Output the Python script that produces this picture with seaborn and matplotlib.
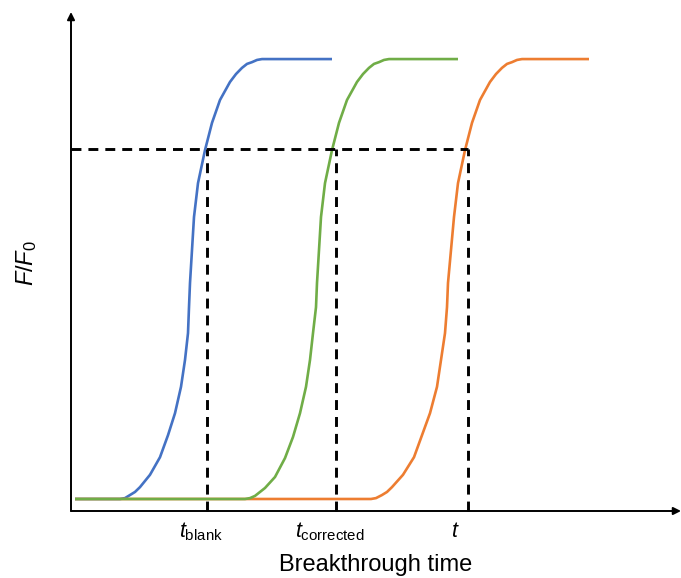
import matplotlib
matplotlib.use("Agg")
import matplotlib.pyplot as plt
import seaborn as sns
import pandas as pd

# ---- data (time in arbitrary units, F/F0) ----
blue_t = [0.4, 4.9, 5.4, 5.9, 6.4, 6.9, 7.9, 8.9, 9.7, 10.4, 11.0, 11.4, 11.7, 11.8, 11.9,
          12.1, 12.3, 12.7, 13.4, 14.1, 14.9, 15.9, 16.5, 17.1, 17.6, 18.1, 18.6, 19.1, 26.1]
blue_f = [0.0, 0.0, 0.002, 0.009, 0.016, 0.027, 0.055, 0.095, 0.145, 0.195, 0.255, 0.316, 0.377, 0.436, 0.491,
          0.566, 0.641, 0.718, 0.793, 0.855, 0.907, 0.948, 0.966, 0.980, 0.989, 0.993, 0.998, 1.0, 1.0]

green_t = [0.4, 17.4, 17.9, 18.4, 18.9, 19.4, 20.4, 21.4, 22.2, 22.9, 23.5, 23.9, 24.2, 24.5, 24.6,
           24.8, 25.0, 25.4, 26.1, 26.8, 27.6, 28.6, 29.2, 29.8, 30.3, 30.8, 31.3, 31.8, 38.7]
green_f = [0.0, 0.0, 0.002, 0.007, 0.016, 0.025, 0.050, 0.093, 0.141, 0.195, 0.255, 0.316, 0.377, 0.436, 0.491,
           0.566, 0.641, 0.718, 0.793, 0.855, 0.907, 0.948, 0.966, 0.980, 0.989, 0.993, 0.998, 1.0, 1.0]

orange_t = [0.4, 30.0, 30.5, 31.1, 31.6, 32.1, 33.2, 34.3, 35.1, 35.9, 36.6, 37.0, 37.4, 37.6, 37.7,
            38.0, 38.3, 38.7, 39.4, 40.1, 40.9, 41.9, 42.5, 43.1, 43.6, 44.1, 44.6, 45.1, 51.8]
orange_f = [0.0, 0.0, 0.002, 0.009, 0.016, 0.027, 0.055, 0.095, 0.145, 0.195, 0.255, 0.316, 0.377, 0.436, 0.491,
            0.566, 0.641, 0.718, 0.793, 0.855, 0.907, 0.948, 0.966, 0.980, 0.989, 0.993, 0.998, 1.0, 1.0]

threshold = 0.795
cross_t = [13.6, 26.5, 39.7]
cross_labels = [r"$t_{\mathrm{blank}}$", r"$t_{\mathrm{corrected}}$", r"$t$"]
label_t = [13.0, 25.9, 38.4]

colors = {"blue": "#4472C4", "green": "#70AD47", "orange": "#ED7D31"}

sns.set_theme(style="white")
plt.rcParams["font.family"] = ["Liberation Sans", "DejaVu Sans"]
plt.rcParams["mathtext.fontset"] = "custom"
plt.rcParams["mathtext.rm"] = "Liberation Sans"
plt.rcParams["mathtext.it"] = "Liberation Sans:italic"
plt.rcParams["text.color"] = "black"

fig = plt.figure(figsize=(6.81, 5.78), dpi=100)
ax = fig.add_axes([71 / 681, 67 / 578, 1 - 71 / 681, 499 / 578])

curves = [("blue", blue_t, blue_f), ("orange", orange_t, orange_f), ("green", green_t, green_f)]
for name, t, f in curves:
    df = pd.DataFrame({"t": t, "f": f})
    sns.lineplot(data=df, x="t", y="f", ax=ax, color=colors[name], lw=1.9,
                 sort=False, estimator=None, zorder=3,
                 solid_joinstyle="round", solid_capstyle="butt")

ax.set_xlim(0, 61)
ax.set_ylim(-0.0273, 1.107)

dash_kw = dict(color="black", lw=2.1, dashes=(3.4, 2.4), zorder=4)
ax.plot([0, cross_t[-1]], [threshold, threshold], **dash_kw)
for ct in cross_t:
    ax.plot([ct, ct], [-0.0273, threshold], clip_on=False, **dash_kw)

for lx, lab in zip(label_t, cross_labels):
    ax.text(lx, -0.087, lab, ha="center", va="baseline", fontsize=15.5, color="black")

for s in ax.spines.values():
    s.set_visible(False)
ax.set_xticks([])
ax.set_yticks([])
ax.set_xlabel("")
ax.set_ylabel("")

arrow_kw = dict(arrowstyle="-|>", color="black", lw=1.4, mutation_scale=11, shrinkA=0, shrinkB=0)
ax.annotate("", xy=(1.0, 0), xytext=(0, 0), xycoords="axes fraction",
            textcoords="axes fraction", arrowprops=arrow_kw, annotation_clip=False)
ax.annotate("", xy=(0, 1.0), xytext=(0, 0), xycoords="axes fraction",
            textcoords="axes fraction", arrowprops=arrow_kw, annotation_clip=False)

fig.text(376 / 681, 2 / 578, "Breakthrough time", ha="center", va="bottom",
         fontsize=17, color="black")
fig.text(27 / 681, 1 - 263 / 578, r"$F/F_0$", ha="center", va="center",
         rotation=90, fontsize=17, color="black")

fig.savefig("out.png", dpi=100)
